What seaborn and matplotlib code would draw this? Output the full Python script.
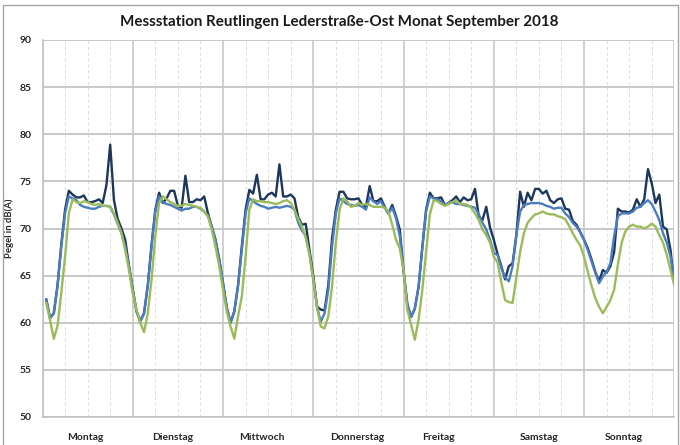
import numpy as np
import pandas as pd
import matplotlib
matplotlib.use("Agg")
import matplotlib.pyplot as plt
import seaborn as sns
from matplotlib.ticker import MultipleLocator
from matplotlib.patches import Rectangle
from matplotlib.transforms import blended_transform_factory

# Wochentage und Stundenwerte (24 Stundenwerte je Tag, Mo-So)
days = ["Montag", "Dienstag", "Mittwoch", "Donnerstag", "Freitag", "Samstag", "Sonntag"]
day_label_hours = [11.5, 34.6, 58.4, 83.7, 105.2, 132.0, 154.7]
y_ticks = [50, 55, 60, 65, 70, 75, 80, 85, 90]

pegel_max = [
    62.5, 60.5, 61.0, 64.0, 68.3, 72.0, 74.0, 73.6, 73.3, 73.3, 73.5, 72.8, 72.8, 72.9, 73.1, 72.7, 74.6, 78.9, 73.0, 71.0, 70.0, 68.8, 66.0, 63.5,
    61.2, 60.2, 61.0, 64.0, 68.3, 72.0, 73.8, 72.7, 73.2, 74.0, 74.0, 72.4, 72.2, 75.6, 72.8, 72.8, 73.1, 73.0, 73.4, 71.6, 70.2, 68.8, 66.7, 64.2,
    61.6, 60.0, 61.2, 64.0, 68.1, 72.0, 74.1, 73.7, 75.7, 73.1, 73.1, 73.6, 73.8, 73.4, 76.8, 73.4, 73.4, 73.6, 73.2, 71.2, 70.4, 70.5, 67.7, 65.0,
    61.7, 61.4, 61.3, 64.0, 69.0, 72.0, 73.9, 73.9, 73.2, 73.1, 73.1, 73.2, 72.5, 72.3, 74.5, 72.9, 72.9, 73.2, 72.3, 71.6, 72.5, 71.3, 69.9, 65.5,
    62.0, 60.6, 61.5, 63.8, 68.0, 72.0, 73.8, 73.2, 73.2, 73.3, 72.5, 72.7, 73.0, 73.4, 72.8, 73.3, 73.0, 73.1, 74.2, 71.3, 70.9, 72.3, 70.1, 68.8,
    67.3, 66.0, 64.6, 66.0, 66.3, 69.3, 73.9, 72.3, 73.8, 73.0, 74.2, 74.2, 73.7, 74.0, 73.0, 72.7, 73.1, 73.2, 72.1, 72.0, 70.8, 70.4, 69.6, 68.8,
    67.9, 66.7, 65.4, 64.4, 65.6, 65.3, 66.0, 67.5, 72.1, 71.8, 71.8, 71.7, 72.0, 73.1, 72.3, 73.1, 76.3, 74.8, 72.7, 73.6, 70.2, 69.9, 67.7, 64.0,
]

pegel_mittel = [
    62.4, 60.5, 61.0, 63.9, 68.1, 71.6, 73.4, 73.2, 73.0, 72.5, 72.3, 72.2, 72.1, 72.1, 72.3, 72.4, 72.4, 72.3, 71.5, 70.5, 69.5, 68.1, 66.0, 63.5,
    61.2, 60.1, 61.0, 63.9, 68.1, 71.8, 73.4, 72.8, 72.6, 72.5, 72.3, 72.1, 71.9, 72.1, 72.1, 72.3, 72.3, 72.1, 71.8, 71.3, 70.2, 68.8, 66.7, 64.2,
    61.6, 60.0, 61.2, 63.9, 67.7, 71.6, 73.2, 72.9, 72.6, 72.4, 72.3, 72.1, 72.2, 72.3, 72.2, 72.3, 72.4, 72.3, 72.0, 70.6, 69.8, 69.2, 67.3, 64.6,
    61.7, 60.1, 61.0, 63.5, 68.1, 71.6, 73.2, 72.9, 72.6, 72.5, 72.4, 72.5, 72.3, 72.0, 73.3, 72.9, 72.6, 72.9, 72.2, 71.6, 72.2, 71.1, 69.2, 65.6,
    62.0, 60.6, 61.5, 63.8, 68.0, 71.8, 73.4, 73.2, 73.1, 72.9, 72.5, 72.7, 72.8, 72.6, 72.6, 72.5, 72.4, 72.3, 72.2, 71.5, 70.6, 69.9, 68.8, 67.4,
    67.2, 65.8, 64.8, 64.4, 66.0, 69.3, 71.8, 72.5, 72.6, 72.7, 72.7, 72.7, 72.6, 72.4, 72.3, 72.1, 72.2, 72.2, 71.6, 71.2, 70.6, 70.2, 69.6, 68.8,
    67.7, 66.5, 65.3, 64.2, 64.9, 65.4, 66.3, 69.2, 71.3, 71.6, 71.6, 71.6, 71.8, 72.2, 72.3, 72.7, 73.0, 72.6, 71.8, 70.9, 69.5, 68.5, 67.0, 64.5,
]

pegel_grund = [
    62.1, 60.3, 58.3, 59.7, 63.2, 67.0, 71.6, 73.1, 72.8, 72.7, 72.9, 72.8, 72.6, 72.5, 72.6, 72.4, 72.4, 72.3, 71.6, 70.6, 69.5, 67.7, 65.6, 63.1,
    61.4, 60.0, 59.0, 61.0, 64.6, 69.2, 72.7, 73.4, 73.1, 72.8, 72.6, 72.4, 72.4, 72.6, 72.5, 72.4, 72.3, 72.2, 71.8, 71.3, 69.9, 68.1, 66.0, 63.5,
    61.2, 59.6, 58.3, 60.7, 62.8, 67.0, 72.0, 73.1, 72.9, 72.9, 72.8, 72.8, 72.7, 72.6, 72.7, 72.9, 73.0, 72.7, 72.0, 71.0, 70.2, 69.0, 67.2, 64.6,
    61.6, 59.6, 59.4, 60.7, 63.9, 68.5, 72.0, 73.2, 72.9, 72.3, 72.4, 72.7, 72.5, 72.6, 72.5, 72.3, 72.3, 72.3, 72.2, 71.8, 70.4, 68.8, 67.9, 65.6,
    61.4, 59.8, 58.2, 60.3, 63.5, 67.5, 71.5, 73.0, 72.9, 72.6, 72.4, 72.6, 72.8, 73.0, 72.6, 72.6, 72.5, 72.2, 71.6, 70.9, 69.9, 69.3, 68.5, 67.0,
    66.4, 64.3, 62.4, 62.2, 62.1, 64.8, 67.5, 69.5, 70.6, 71.1, 71.5, 71.6, 71.8, 71.6, 71.5, 71.5, 71.3, 71.2, 71.0, 70.3, 69.5, 68.8, 68.2, 67.0,
    65.4, 63.9, 62.6, 61.7, 61.0, 61.7, 62.4, 63.5, 66.2, 68.5, 69.7, 70.2, 70.4, 70.2, 70.2, 70.0, 70.2, 70.5, 70.2, 69.3, 68.5, 67.2, 65.6, 64.0,
]

series = {"Maximum": pegel_max, "Mittelwert": pegel_mittel, "Grundpegel": pegel_grund}
colors = ["#1C365C", "#4A7DC0", "#9BBB59"]

# Stundenwerte werden jeweils am Ende der Stunde aufgetragen (1..168)
n_hours = 24 * len(days)
stunde = np.arange(1, n_hours + 1)
df = pd.concat(
    [pd.DataFrame({"Stunde": stunde, "Pegel": vals, "Reihe": name}) for name, vals in series.items()],
    ignore_index=True,
)

sns.set_theme(style="white")
plt.rcParams["font.family"] = ["Lato", "DejaVu Sans"]

W, H = 680, 445
fig = plt.figure(figsize=(W / 100, H / 100), dpi=100)
left, right, top, bottom = 42.5, 674.3, 40, 417
ax = fig.add_axes([left / W, 1 - bottom / H, (right - left) / W, (bottom - top) / H])

sns.lineplot(
    data=df, x="Stunde", y="Pegel", hue="Reihe", hue_order=list(series.keys()),
    palette=colors, linewidth=1.7, legend=False, ax=ax, zorder=3,
)

ax.set_xlim(0, n_hours)
ax.set_ylim(50, 90)
ax.set_yticks(y_ticks)
ax.set_yticklabels([str(v) for v in y_ticks], fontsize=7.5, fontweight="bold", color="#262626")

ax.xaxis.set_major_locator(MultipleLocator(24))
ax.xaxis.set_minor_locator(MultipleLocator(6))
ax.grid(axis="y", color="#c8c8c8", linewidth=1.4, zorder=0)
ax.grid(axis="x", which="major", color="#c4c4c4", linewidth=1.1, zorder=0)
ax.grid(axis="x", which="minor", color="#dadada", linewidth=0.7, linestyle=(0, (3, 3)), zorder=0)
ax.tick_params(axis="x", which="both", length=3, width=0.8, color="#bfbfbf", labelbottom=False)
ax.tick_params(axis="y", length=3, width=0.8, color="#bfbfbf", pad=5)

for name, sp in ax.spines.items():
    sp.set_visible(name in ("left", "bottom"))
    sp.set_color("#bfbfbf")
    sp.set_linewidth(1.1)

ax.set_xlabel("")
ax.set_ylabel("Pegel in dB(A)", fontsize=6.8, fontweight="bold", color="#262626")
ax.yaxis.set_label_coords((14 - left) / (right - left), 0.5)

trans = blended_transform_factory(ax.transData, ax.transAxes)
for pos, name in zip(day_label_hours, days):
    ax.text(pos, -(437 - bottom) / (bottom - top), name, transform=trans,
            ha="center", va="center", fontsize=7.5, fontweight="bold", color="#262626")

fig.text(0.4993, 1 - 22 / H, "Messstation Reutlingen Lederstraße-Ost Monat September 2018",
         ha="center", va="center", fontsize=10.9, fontweight="bold", color="#1a1a1a")

# Rahmen um den Diagrammbereich
fig.add_artist(Rectangle((3 / W, -0.01), (678 - 3) / W, 1 - 5 / H + 0.01,
                         transform=fig.transFigure, fill=False, edgecolor="#a6a6a6", linewidth=1.0))

fig.savefig("out.png", dpi=100)
